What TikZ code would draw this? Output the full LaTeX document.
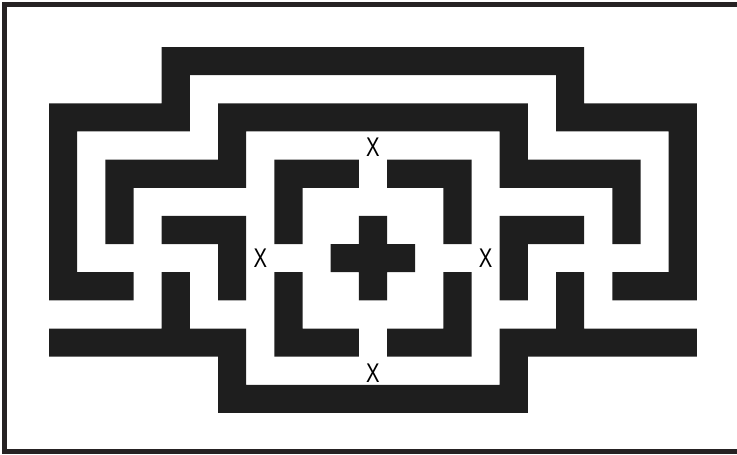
\documentclass[tikz,border=0pt]{standalone}
\usepackage{fontspec}
\setmainfont{Liberation Sans}[FakeStretch=0.75]
\usepackage{tikz}
\definecolor{mazeblack}{RGB}{30,30,30}
\definecolor{framegray}{RGB}{38,34,35}
\tikzset{wall/.style={fill=mazeblack, draw=none}, frameline/.style={draw=framegray, line width=5pt}, gatelabel/.style={inner sep=0pt, font=\fontsize{27}{27}\selectfont, text=black}}

\begin{document}
\begin{tikzpicture}[x=1pt,y=-1pt]
\useasboundingbox (0,0) rectangle (737,455);
\clip (0,0) rectangle (737,455);
\draw[frameline] (760,4.2) -- (4.5,4.2) -- (4.5,451) -- (760,451);
\begin{scope}[shift={(49,47)}, x=28.17pt, y=-28.15pt]
\fill[wall] (0,2) -- (4,2) -- (4,0) -- (19,0) -- (19,2) -- (23,2) -- (23,9) -- (20,9) -- (20,8) -- (22,8) -- (22,3) -- (18,3) -- (18,1) -- (5,1) -- (5,3) -- (1,3) -- (1,8) -- (3,8) -- (3,9) -- (0,9) -- cycle;
\fill[wall] (2,4) -- (6,4) -- (6,2) -- (17,2) -- (17,4) -- (21,4) -- (21,7) -- (20,7) -- (20,5) -- (16,5) -- (16,3) -- (7,3) -- (7,5) -- (3,5) -- (3,7) -- (2,7) -- cycle;
\fill[wall] (8,4) -- (11,4) -- (11,5) -- (9,5) -- (9,7) -- (8,7) -- cycle;
\fill[wall] (12,4) -- (15,4) -- (15,7) -- (14,7) -- (14,5) -- (12,5) -- cycle;
\fill[wall] (8,8) -- (9,8) -- (9,10) -- (11,10) -- (11,11) -- (8,11) -- cycle;
\fill[wall] (14,8) -- (15,8) -- (15,11) -- (12,11) -- (12,10) -- (14,10) -- cycle;
\fill[wall] (11,6) -- (12,6) -- (12,7) -- (13,7) -- (13,8) -- (12,8) -- (12,9) -- (11,9) -- (11,8) -- (10,8) -- (10,7) -- (11,7) -- cycle;
\fill[wall] (4,6) -- (7,6) -- (7,9) -- (6,9) -- (6,7) -- (4,7) -- cycle;
\fill[wall] (16,6) -- (19,6) -- (19,7) -- (17,7) -- (17,9) -- (16,9) -- cycle;
\fill[wall] (0,10) -- (4,10) -- (4,8) -- (5,8) -- (5,10) -- (7,10) -- (7,12) -- (16,12) -- (16,10) -- (18,10) -- (18,8) -- (19,8) -- (19,10) -- (23,10) -- (23,11) -- (17,11) -- (17,13) -- (6,13) -- (6,11) -- (0,11) -- cycle;
\node[gatelabel] (xtop) at (11.5,3.55) {X};
\node[gatelabel] (xleft) at (7.5,7.5) {X};
\node[gatelabel] (xright) at (15.5,7.5) {X};
\node[gatelabel] (xbottom) at (11.5,11.6) {X};
\end{scope}
\end{tikzpicture}
\end{document}
